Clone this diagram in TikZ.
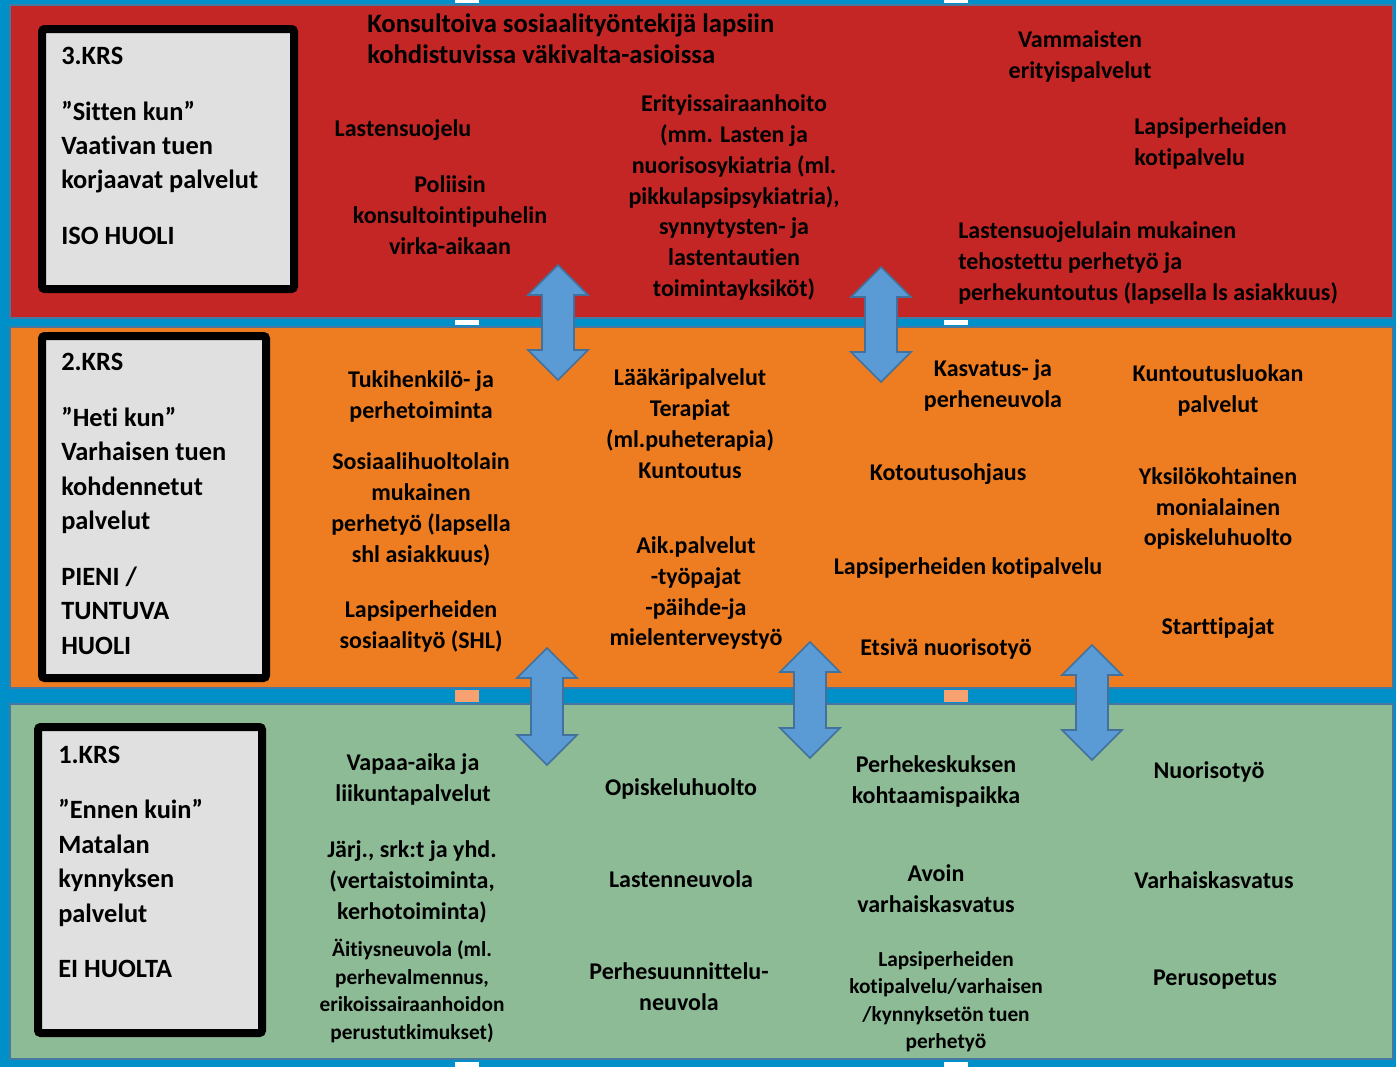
\documentclass[tikz,border=0pt]{standalone}
\usepackage{fontspec}
\setmainfont{Carlito}[Ligatures=NoCommon]
\definecolor{bgblue}{RGB}{0,144,201}
\definecolor{bandline}{RGB}{70,120,160}
\definecolor{krs3}{RGB}{195,38,36}
\definecolor{krs2}{RGB}{238,125,33}
\definecolor{krs1}{RGB}{141,187,150}
\definecolor{boxgray}{RGB}{224,224,224}
\definecolor{arrowfill}{RGB}{91,155,213}
\definecolor{arrowline}{RGB}{65,113,156}
\definecolor{peach}{RGB}{247,160,112}
\tikzset{
  % Band of one floor
  band/.style={draw=bandline, line width=1.2pt},
  % Floor title box
  lvlbox/.style={draw=black, fill=boxgray, line width=6pt, rounded corners=2pt},
  lvltext/.style={anchor=west, align=left, inner sep=0pt,
    font=\fontsize{19.8}{25.8}\selectfont\bfseries},
  % Service texts
  item/.style={align=center, inner sep=0pt, yshift=-1.5pt,
    font=\fontsize{18}{23.2}\selectfont\bfseries},
  bigitem/.style={item, font=\fontsize{20}{23.4}\selectfont\bfseries},
  smallitem/.style={item, font=\fontsize{16}{20.6}\selectfont\bfseries},
  % Up-down block arrow
  barrow/.style={draw=arrowline, fill=arrowfill, line width=1.2pt, line join=miter},
}
% block arrow: center x, top y, length
\newcommand{\updown}[3]{%
  \draw[barrow] (#1,#2) -- ++(30,30) -- ++(-14,0) -- ++(0,{#3-60}) -- ++(14,0)
    -- ++(-30,30) -- ++(-30,-30) -- ++(14,0) -- ++(0,{60-#3}) -- ++(-14,0) -- cycle;}

\begin{document}
\begin{tikzpicture}[x=0.75pt, y=-0.75pt]
  \useasboundingbox (0,0) rectangle (1396,1067);
  \fill[bgblue] (0,0) rectangle (1396,1067);

  \draw[band, fill=krs3] (10,5) rectangle (1393,318);
  \draw[band, fill=krs2] (10,327) rectangle (1393,688);
  \draw[band, fill=krs1] (10,704) rectangle (1393,1059);

  \foreach \x in {455,944} {
    \fill[white] (\x,0) rectangle ++(24,3);
    \fill[white] (\x,320) rectangle ++(24,5);
    \fill[peach] (\x,690) rectangle ++(24,12);
    \fill[white] (\x,1062) rectangle ++(24,5);
  }

  % floor boxes
  \draw[lvlbox] (42,29) rectangle (294,289);
  \draw[lvlbox] (42,336) rectangle (266,678);
  \draw[lvlbox] (38,727) rectangle (262,1033);

  \node[lvltext] (krs3) at (61,146) {3.KRS\\[16pt]”Sitten kun”\\Vaativan tuen\\korjaavat palvelut\\[16pt]ISO HUOLI};
  \node[lvltext] (krs2) at (61,504) {2.KRS\\[16pt]”Heti kun”\\Varhaisen tuen\\kohdennetut\\palvelut\\[16pt]PIENI /\\TUNTUVA\\HUOLI};
  \node[lvltext] (krs1) at (58,862) {1.KRS\\[16pt]”Ennen kuin”\\Matalan\\kynnyksen\\palvelut\\[16pt]EI HUOLTA};

  % 3. krs
  \node[bigitem, anchor=west, align=left] (konsultoiva) at (367,36.5) {Konsultoiva sosiaalityöntekijä lapsiin\\kohdistuvissa väkivalta-asioissa};
  \node[item] (lastensuojelu) at (403,128) {Lastensuojelu};
  \node[item] (poliisi) at (450,213.5) {Poliisin\\konsultointipuhelin\\virka-aikaan};
  \node[item] (erityis) at (734,195.5) {Erityissairaanhoito\\(mm. Lasten ja\\nuorisosykiatria (ml.\\pikkulapsipsykiatria),\\synnytysten- ja\\lastentautien\\toimintayksiköt)};
  \node[item] (vammaiset) at (1080,54) {Vammaisten\\erityispalvelut};
  \node[item, anchor=west, align=left] (kotipalvelu3) at (1134,141.5) {Lapsiperheiden\\kotipalvelu};
  \node[item, anchor=west, align=left] (lsperhetyo) at (958,261) {Lastensuojelulain mukainen\\tehostettu perhetyö ja\\perhekuntoutus (lapsella ls asiakkuus)};

  % 2. krs
  \node[item] (tukihenkilo) at (421,394) {Tukihenkilö- ja\\perhetoiminta};
  \node[item] (shperhetyo) at (421,507) {Sosiaalihuoltolain\\mukainen\\perhetyö (lapsella\\shl asiakkuus)};
  \node[item] (sosiaalityo) at (421,624) {Lapsiperheiden\\sosiaalityö (SHL)};
  \node[item] (laakari) at (690,421.5) {Lääkäripalvelut\\Terapiat\\(ml.puheterapia)\\Kuntoutus};
  \node[item] (aikpalvelut) at (696,591) {Aik.palvelut\\-työpajat\\-päihde-ja\\mielenterveystyö};
  \node[item] (kasvatus) at (993,383) {Kasvatus- ja\\perheneuvola};
  \node[item] (kotoutus) at (948,472) {Kotoutusohjaus};
  \node[item] (kotipalvelu2) at (968,566) {Lapsiperheiden kotipalvelu};
  \node[item] (etsiva) at (946,647) {Etsivä nuorisotyö};
  \node[item] (kuntoutusluokka) at (1218,388) {Kuntoutusluokan\\palvelut};
  \node[item] (opiskeluhuolto2) at (1218,506.5) {Yksilökohtainen\\monialainen\\opiskeluhuolto};
  \node[item] (starttipajat) at (1218,626) {Starttipajat};

  % 1. krs
  \node[item] (vapaaaika) at (413,777) {Vapaa-aika ja\\liikuntapalvelut};
  \node[item] (jarjestot) at (412,880) {Järj., srk:t ja yhd.\\(vertaistoiminta,\\kerhotoiminta)};
  \node[smallitem] (aitiysneuvola) at (412,989) {Äitiysneuvola (ml.\\perhevalmennus,\\erikoissairaanhoidon\\perustutkimukset)};
  \node[item] (opiskeluhuolto1) at (681,787) {Opiskeluhuolto};
  \node[item] (lastenneuvola) at (681,877) {Lastenneuvola};
  \node[item] (perhesuunnittelu) at (679,984.5) {Perhesuunnittelu-\\neuvola};
  \node[item] (perhekeskus) at (936,779) {Perhekeskuksen\\kohtaamispaikka};
  \node[item] (avoin) at (936,887) {Avoin\\varhaiskasvatus};
  \node[smallitem] (kotipalvelu1) at (946,999.5) {Lapsiperheiden\\kotipalvelu/varhaisen\\/kynnyksetön tuen\\perhetyö};
  \node[item] (nuorisotyo) at (1209,770) {Nuorisotyö};
  \node[item] (varhaiskasvatus) at (1214,878) {Varhaiskasvatus};
  \node[item] (perusopetus) at (1215,978) {Perusopetus};

  % arrows between floors
  \updown{558}{265}{115}
  \updown{881}{267}{115}
  \updown{547}{648}{117}
  \updown{810}{642}{116}
  \updown{1092}{645}{115}
\end{tikzpicture}
\end{document}
